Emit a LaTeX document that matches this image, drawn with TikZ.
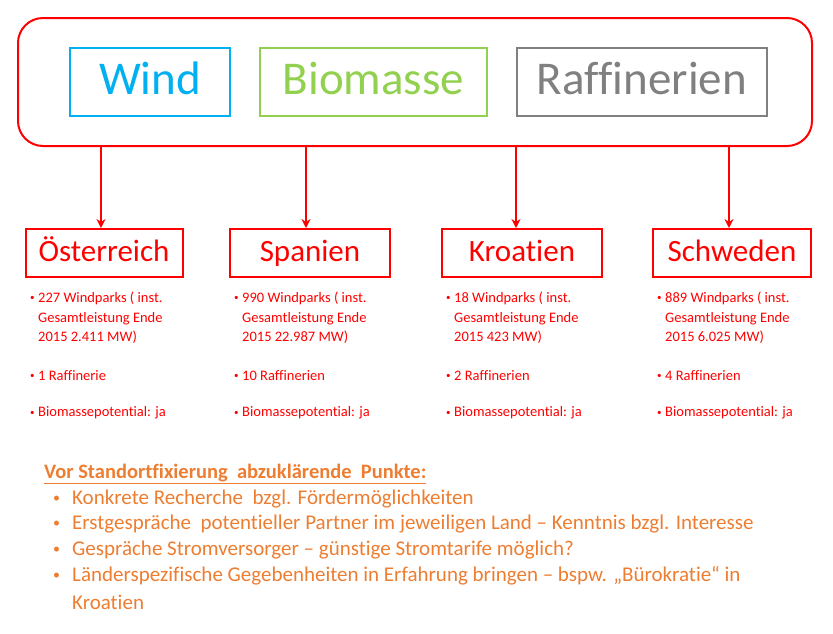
\documentclass[tikz,border=0pt]{standalone}
\usepackage{fontspec}
\setmainfont{Carlito}[Ligatures=NoCommon]
\usetikzlibrary{arrows.meta}
\begin{document}
\begin{tikzpicture}[x=1pt,y=-1pt,
  redc/.style={draw=red,line width=2pt},
  cbox/.style={redc,minimum width=157pt,minimum height=48pt,font=\fontsize{31}{34}\selectfont,text=red,inner sep=0,text height=22pt,text depth=6pt},
  tbox/.style={line width=2.2pt,minimum height=68pt,font=\fontsize{47}{50}\selectfont,inner sep=0,text height=33pt,text depth=9pt},
  arr/.style={draw=red,line width=2pt,-{Stealth[length=9pt,width=9pt]}},
  bl/.style={anchor=west,align=left,text=red,font=\fontsize{14.5}{19.5}\selectfont,inner sep=0},
  ob/.style={anchor=west,text=orange2,font=\fontsize{21}{24}\selectfont,inner sep=0}]
\definecolor{cyan2}{RGB}{0,176,240}
\definecolor{green2}{RGB}{146,208,80}
\definecolor{gray2}{RGB}{128,128,128}
\definecolor{orange2}{RGB}{237,125,49}
\useasboundingbox (0,0) rectangle (833,633);
\node[redc,rounded corners=25pt,minimum width=794pt,minimum height=128pt] (top) at (415,82) {};
\node[tbox,draw=cyan2,text=cyan2,minimum width=160pt] (wind) at (150,82) {Wind};
\node[tbox,draw=green2,text=green2,minimum width=227pt] (bio) at (373.5,82) {Biomasse};
\node[tbox,draw=gray2,text=gray2,minimum width=250pt] (raf) at (642,82) {Raffinerien};
\node[cbox] (at) at (104,253) {Österreich};
\node[cbox,minimum width=160pt] (es) at (310,253) {Spanien};
\node[cbox,minimum width=160pt] (hr) at (522,253) {Kroatien};
\node[cbox,minimum width=158pt] (se) at (732,253) {Schweden};
\foreach \n/\x in {at/101,es/306,hr/516,se/729}{
  \draw[arr] (top.south -| \x,0) -- (\n.north -| \x,0);
}
\foreach \x/\a/\b/\c in {26/227/2.411/1 Raffinerie,230/990/22.987/10 Raffinerien,442/18/423/2 Raffinerien,653/889/6.025/4 Raffinerien}{
  \node[bl] (b1\x) at (\x+4,298) {\fontsize{9}{9}\selectfont•};
  \node[bl] (t1\x) at (\x+12,318) {\a{} Windparks ( inst.\\Gesamtleistung Ende\\2015 \b{} MW)};
  \node[bl] (b2\x) at (\x+4,376) {\fontsize{9}{9}\selectfont•};
  \node[bl] (t2\x) at (\x+12,376) {\c};
  \node[bl] (b3\x) at (\x+4,413) {\fontsize{9}{9}\selectfont•};
  \node[bl] (t3\x) at (\x+12,413) {Biomassepotential: ja};
}
\node[ob,font=\bfseries\fontsize{20.5}{24}\selectfont] (h) at (44,474) {\underline{Vor Standortfixierung\ \ abzuklärende\ \ Punkte:}};
\foreach \y/\t in {499/{Konkrete Recherche\ \ bzgl. Fördermöglichkeiten},524/{Erstgespräche\ \ potentieller Partner im jeweiligen Land – Kenntnis bzgl. Interesse},550/{Gespräche Stromversorger – günstige Stromtarife möglich?},576/{Länderspezifische\ Gegebenheiten\ in Erfahrung bringen – bspw. „Bürokratie“ in}}{
  \node[ob,font=\fontsize{14}{14}\selectfont] (p\y) at (53,\y) {•};
  \node[ob] (q\y) at (72,\y) {\t};
}
\node[ob] (last) at (72,602) {Kroatien};
\end{tikzpicture}
\end{document}
